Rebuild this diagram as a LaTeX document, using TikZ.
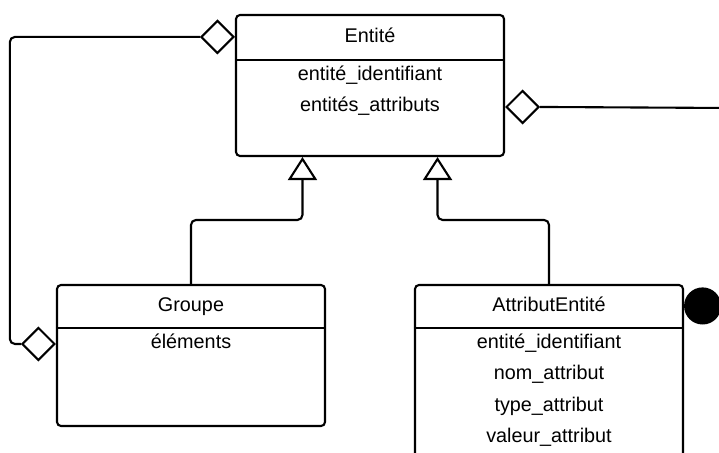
\documentclass[tikz,border=0pt]{standalone}
\usepackage{fontspec}
\setmainfont{Liberation Sans}
\usetikzlibrary{shapes.geometric, positioning, arrows.meta, calc}

\begin{document}
\begin{tikzpicture}[
    x=1pt, y=-1pt,
    line width=2.1pt,
    font=\fontsize{19.8pt}{24pt}\selectfont,
    classbox/.style={draw, rectangle, rounded corners=4pt, minimum width=268pt, minimum height=141pt, inner sep=0pt, fill=white},
    field/.style={anchor=base, inner sep=0pt},
    aggreg/.style={draw, diamond, aspect=1, minimum width=33pt, minimum height=33pt, inner sep=0pt, fill=white},
    compo/.style={draw, circle, fill=black, minimum size=35pt, inner sep=0pt},
    inherit/.style={-{Triangle[open, length=23pt, width=29pt]}, rounded corners=5pt}
]
    \useasboundingbox (0,0) rectangle (719,452);
    \clip (0,0) rectangle (719,452);

    % Classes
    \node[classbox] (ent) at (370,85.5) {};
    \node[classbox] (grp) at (191,355.5) {};
    \node[classbox, minimum height=200pt] (attr) at (549,385) {};

    % Compartment lines
    \draw (ent.north west) ++(0,46) -- ++(268,0);
    \draw (grp.north west) ++(0,44) -- ++(268,0);
    \draw (attr.north west) ++(0,44) -- ++(268,0);

    % Names and fields
    \node[field] (entT) at (370,42) {Entité};
    \node[field] (entA1) at (370,80) {entité\_identifiant};
    \node[field] (entA2) at (370,111) {entités\_attributs};

    \node[field] (grpT) at (191,311) {Groupe};
    \node[field] (grpA1) at (191,348) {éléments};

    \node[field] (attT) at (549,311) {AttributEntité};
    \node[field] (attA1) at (549,348) {entité\_identifiant};
    \node[field] (attA2) at (549,379.5) {nom\_attribut};
    \node[field] (attA3) at (549,411) {type\_attribut};
    \node[field] (attA4) at (549,442.5) {valeur\_attribut};

    % Association ends
    \node[aggreg, anchor=east] (aggEnt) at ($(ent.north west)+(0,23)$) {};
    \node[aggreg, anchor=west] (aggOut) at ($(ent.north east)+(0,93)$) {};
    \node[aggreg, anchor=east] (aggGrp) at ($(grp.north west)+(0,60)$) {};
    \node[compo, anchor=west] (dot) at ($(attr.north east)+(0,22)$) {};
    \coordinate (outR) at (730,108);
    \coordinate (outDot) at (730,307);

    % Connections
    \draw[rounded corners=5pt] (aggEnt.west) -- ++(-190,0) |- (aggGrp.west);
    \draw (aggOut.east) -- (outR);
    \draw (dot.east) -- (outDot);

    % Generalisation
    \coordinate (ent1) at ($(ent.south west)!0.25!(ent.south east)$);
    \coordinate (ent2) at ($(ent.south west)!0.75!(ent.south east)$);
    \draw[inherit] (grp.north) -- ++(0,-64) -| (ent1);
    \draw[inherit] (attr.north) -- ++(0,-64) -| (ent2);

\end{tikzpicture}
\end{document}
